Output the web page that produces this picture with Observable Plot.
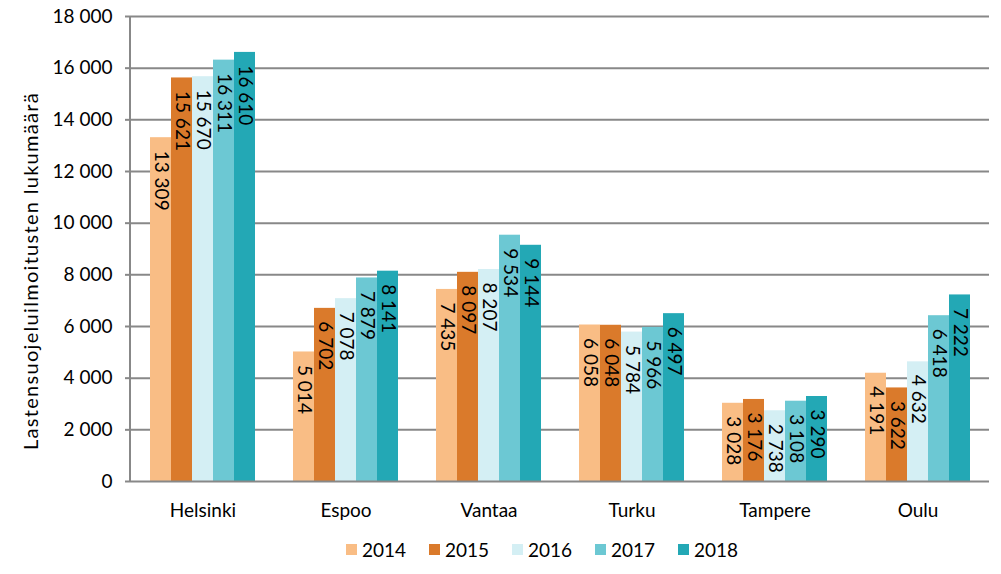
<!DOCTYPE html>
<html><head><meta charset="utf-8">
<script src="https://cdn.jsdelivr.net/npm/d3@7"></script>
<script src="https://cdn.jsdelivr.net/npm/@observablehq/plot@0.6"></script>
<style>
body{margin:0;background:#fff;font-family:Lato,"Noto Sans",sans-serif;}
#chart{position:relative;width:1001px;height:574px;overflow:hidden;}
#ytitle{position:absolute;left:30px;top:271px;transform:translate(-50%,-50%) rotate(-90deg);white-space:nowrap;font-size:20px;letter-spacing:1.3px;color:#000;}
#legend{position:absolute;left:346px;top:538px;display:flex;font-size:19px;color:#000;}
#legend .item{display:flex;align-items:center;width:83px;}
#legend .sw{width:11px;height:11px;margin-right:5px;}
</style></head><body><div id="chart"></div>
<script>
const cities = ["Helsinki","Espoo","Vantaa","Turku","Tampere","Oulu"];
const years = ["2014","2015","2016","2017","2018"];
const v2014 = [13309,5014,7435,6058,3028,4191];
const v2015 = [15621,6702,8097,6048,3176,3622];
const v2016 = [15670,7078,8207,5784,2738,4632];
const v2017 = [16311,7879,9534,5966,3108,6418];
const v2018 = [16610,8141,9144,6497,3290,7222];
const colors = ["#F9BD85","#DA7A2B","#D4EFF4","#6CC8D3","#23A8B5"];
const yTicks = [0,2000,4000,6000,8000,10000,12000,14000,16000,18000];
const yTitle = "Lastensuojeluilmoitusten lukumäärä";

const series = [v2014,v2015,v2016,v2017,v2018];
const data = [];
cities.forEach((c,i)=>years.forEach((y,j)=>data.push({city:c,year:y,value:series[j][i]})));

const loc = d3.formatLocale({decimal:",",thousands:" ",grouping:[3],currency:["","€"]});
const fmt = loc.format(",d");

const chart = Plot.plot({
  width:1001, height:520,
  marginLeft:130, marginRight:11, marginTop:16, marginBottom:39,
  style:{fontFamily:"Lato, 'Noto Sans', sans-serif", fontSize:"19px", color:"#000", background:"#fff"},
  fx:{domain:cities, padding:0, label:null},
  x:{domain:years, paddingInner:0, paddingOuter:0.76, axis:null},
  y:{domain:[0,18000], label:null},
  color:{domain:years, range:colors},
  marks:[
    Plot.ruleY(yTicks.filter(d=>d>0), {stroke:"#888", strokeWidth:2}),
    Plot.barY(data, {fx:"city", x:"year", y:"value", fill:"year"}),
    Plot.ruleY([0], {stroke:"#888", strokeWidth:2}),
    Plot.text(data, {fx:"city", x:"year", y:"value", text:d=>fmt(d.value), rotate:90, textAnchor:"start", lineAnchor:"middle", dy:13, fontSize:19, fill:"#000"}),
    Plot.axisY({ticks:yTicks, tickFormat:fmt, tickSize:6, tickPadding:13, stroke:"#888", strokeWidth:2, fontSize:19, label:null}),
    Plot.axisFx({anchor:"bottom", tickSize:0, tickPadding:22, fontSize:19, label:null})
  ]
});
const el = document.getElementById("chart");
el.appendChild(chart);
// left axis line
const ys = chart.scale("y");
d3.select(chart).append("line")
  .attr("x1",130).attr("x2",130)
  .attr("y1",ys.apply(0)+1).attr("y2",ys.apply(18000))
  .attr("stroke","#888").attr("stroke-width",2);

const t = document.createElement("div");
t.id="ytitle"; t.textContent = yTitle; el.appendChild(t);

const lg = document.createElement("div"); lg.id="legend";
years.forEach((y,i)=>{
  const it=document.createElement("div"); it.className="item";
  const sw=document.createElement("div"); sw.className="sw"; sw.style.background=colors[i];
  const tx=document.createElement("span"); tx.textContent=y;
  it.appendChild(sw); it.appendChild(tx); lg.appendChild(it);
});
el.appendChild(lg);
</script></body></html>
